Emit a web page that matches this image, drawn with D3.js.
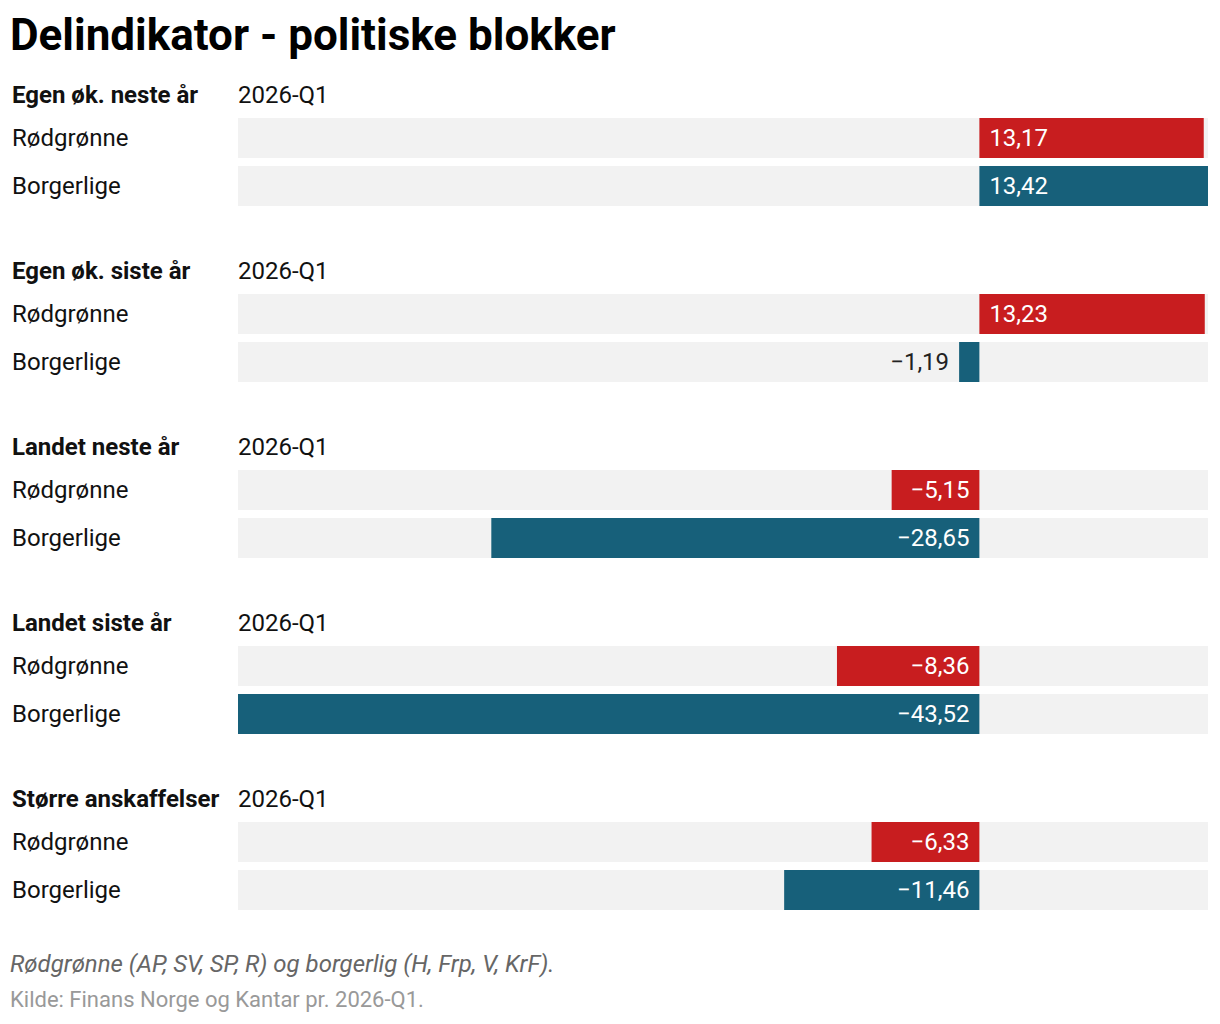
<!DOCTYPE html>
<html>
<head>
<meta charset="utf-8">
<script src="https://cdn.jsdelivr.net/npm/d3@7"></script>
<style>
  body { margin: 0; background: #fff; font-family: Roboto, sans-serif; }
</style>
</head>
<body>
<div id="chart"></div>
<script>
// Data
const indicators = ['Egen øk. neste år', 'Egen øk. siste år', 'Landet neste år', 'Landet siste år', 'Større anskaffelser'];
const blocs = ['Rødgrønne', 'Borgerlige'];
const period = '2026-Q1';
const rodgronne = [13.17, 13.23, -5.15, -8.36, -6.33];
const borgerlige = [13.42, -1.19, -28.65, -43.52, -11.46];
const blocColors = ['#c81d1f', '#17607a'];

const width = 1220, height = 1024;
const svg = d3.select('#chart').append('svg')
  .attr('width', width)
  .attr('height', height);

const allValues = rodgronne.concat(borgerlige);
const x = d3.scaleLinear()
  .domain([d3.min(allValues), d3.max(allValues)])
  .range([238, 1208]);

const fmt = v => (v < 0 ? '\u2212' : '') + d3.format('.2f')(Math.abs(v)).replace('.', ',');

// Title
svg.append('text')
  .attr('x', 10).attr('y', 50)
  .attr('font-size', 44).attr('font-weight', 700)
  .attr('fill', '#000')
  .text('Delindikator - politiske blokker');

const groupStep = 176;
const groups = svg.selectAll('g.group')
  .data(indicators.map((name, i) => ({ name, i, values: [rodgronne[i], borgerlige[i]] })))
  .join('g')
  .attr('class', 'group')
  .attr('transform', d => `translate(0,${d.i * groupStep})`);

groups.append('text')
  .attr('x', 12).attr('y', 103)
  .attr('font-size', 24).attr('font-weight', 700).attr('fill', '#111')
  .text(d => d.name);

groups.append('text')
  .attr('x', 238).attr('y', 103)
  .attr('font-size', 24).attr('fill', '#111')
  .text(period);

const rows = groups.selectAll('g.row')
  .data(d => d.values.map((v, j) => ({ v, j })))
  .join('g')
  .attr('class', 'row')
  .attr('transform', d => `translate(0,${118 + d.j * 48})`);

rows.append('text')
  .attr('x', 12).attr('y', 28)
  .attr('font-size', 24).attr('fill', '#111')
  .text(d => blocs[d.j]);

rows.append('rect')
  .attr('x', x.range()[0]).attr('y', 0)
  .attr('width', x.range()[1] - x.range()[0])
  .attr('height', 40)
  .attr('fill', '#f2f2f2');

rows.append('rect')
  .attr('x', d => Math.min(x(0), x(d.v)))
  .attr('y', 0)
  .attr('width', d => Math.abs(x(d.v) - x(0)))
  .attr('height', 40)
  .attr('fill', d => blocColors[d.j]);

rows.append('text')
  .attr('y', 28)
  .attr('font-size', 24)
  .each(function(d) {
    const w = Math.abs(x(d.v) - x(0));
    const inside = w > 80;
    const t = d3.select(this);
    if (d.v >= 0) {
      t.attr('x', inside ? x(0) + 10 : x(d.v) + 10).attr('text-anchor', 'start');
    } else {
      t.attr('x', inside ? x(0) - 10 : x(d.v) - 10).attr('text-anchor', 'end');
    }
    t.attr('fill', inside ? '#fff' : '#222');
  })
  .text(d => fmt(d.v));

// Notes
svg.append('text')
  .attr('x', 10).attr('y', 972)
  .attr('font-size', 24).attr('font-style', 'italic').attr('fill', '#666')
  .text('Rødgrønne (AP, SV, SP, R) og borgerlig (H, Frp, V, KrF).');

svg.append('text')
  .attr('x', 10).attr('y', 1007)
  .attr('font-size', 22).attr('fill', '#999')
  .text('Kilde: Finans Norge og Kantar pr. 2026-Q1.');
</script>
</body>
</html>
